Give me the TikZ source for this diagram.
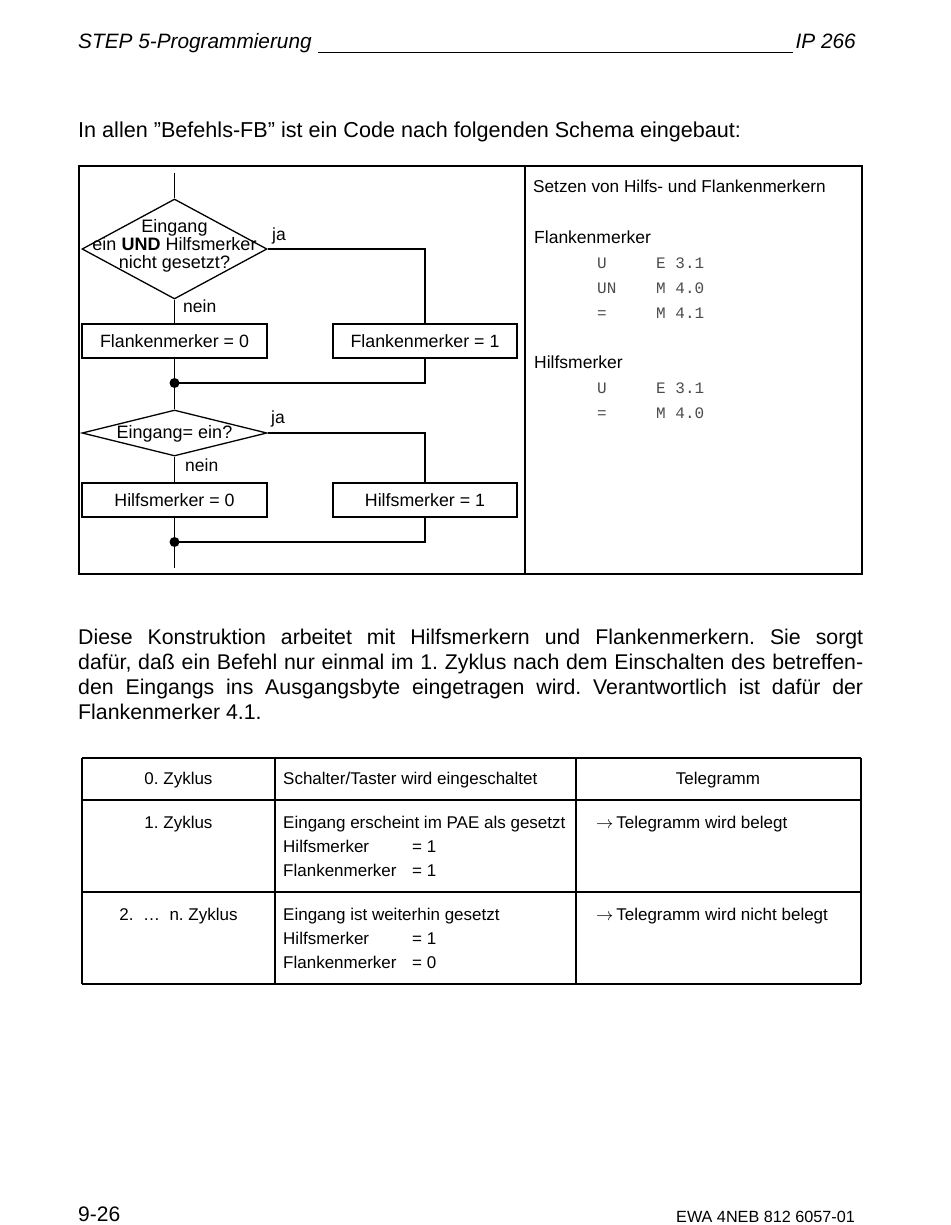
\documentclass[tikz,border=0pt]{standalone}
\usepackage{fontspec}
\setmainfont{Liberation Sans}
\setmonofont{Liberation Mono}
\usetikzlibrary{shapes.geometric}
\frenchspacing

\newcommand{\gr}[1]{\fontsize{#1}{#1}\selectfont}

\tikzset{
  linie/.style={line width=1.3pt},
  kasten/.style={draw, line width=1.3pt, minimum width=185pt, minimum height=34pt, inner sep=0pt, font=\gr{17.8}},
  raute/.style={draw, diamond, line width=1.3pt, minimum width=185pt, inner sep=0pt},
  punkt/.style={circle, fill, inner sep=0pt, minimum size=10pt},
  txt/.style={inner sep=0pt, anchor=base west, font=\gr{17.5}},
  kode/.style={inner sep=0pt, anchor=base west, font=\ttfamily\gr{16}, text=black!70},
  zelle/.style={inner sep=0pt, anchor=base west, font=\gr{17}},
  gross/.style={inner sep=0pt, anchor=base west, font=\gr{21.3}},
  tab/.style={line width=1.2pt},
}

\begin{document}
\begin{tikzpicture}[x=1pt,y=-1pt]
\useasboundingbox (0,0) rectangle (950,1225);

% Kopfzeile
\node[gross, font=\gr{20.8}] (titel) at (78,49) {\itshape STEP 5-Programmierung};
\node[gross, font=\gr{20.8}, anchor=base east] (ip) at (856,49) {\itshape IP 266};
\draw[line width=0.9pt] (318,52) -- (793,52);

\node[gross, font=\gr{21.6}] (intro) at (78,138) {In allen ”Befehls-FB” ist ein Code nach folgenden Schema eingebaut:};

% Rahmen
\draw[linie] (79,166) rectangle (862,574);
\draw[linie] (525,166) -- (525,574);

% Ablaufplan
\coordinate (start) at (174.5,173);
\node[raute, minimum height=100pt] (d1) at (174.5,249) {};
\node[align=center, inner sep=0pt, font=\fontsize{18}{18}\selectfont] (d1t) at (174.5,246)
  {Eingang\\ein \textbf{UND} Hilfsmerker\\nicht gesetzt?};
\node[kasten] (f0) at (174.5,341) {Flankenmerker = 0};
\node[kasten, minimum width=184pt] (f1) at (425,341) {Flankenmerker = 1};
\node[punkt] (p1) at (174.5,383) {};
\node[raute, minimum height=46pt] (d2) at (174.5,433) {};
\node[font=\gr{18}, inner sep=0pt] (d2t) at (174.5,433.5) {Eingang= ein?};
\node[kasten] (h0) at (174.5,500) {Hilfsmerker = 0};
\node[kasten, minimum width=184pt] (h1) at (425,500) {Hilfsmerker = 1};
\node[punkt] (p2) at (174.5,542) {};
\coordinate (ende) at (174.5,568);

\node[txt] (ja1) at (272,240) {ja};
\node[txt] (nein1) at (183,312) {nein};
\node[txt] (ja2) at (271,423) {ja};
\node[txt] (nein2) at (185,471) {nein};

\draw[linie] (start) -- (d1.north);
\draw[linie] (d1.south) -- (f0.north);
\draw[linie] (d1.east) -| (f1.north);
\draw[linie] (f0.south) -- (p1.center) -- (d2.north);
\draw[linie] (f1.south) |- (p1.center);
\draw[linie] (d2.south) -- (h0.north);
\draw[linie] (d2.east) -| (h1.north);
\draw[linie] (h0.south) -- (p2.center) -- (ende);
\draw[linie] (h1.south) |- (p2.center);

% Programmcode
\node[txt, font=\gr{17.2}] (setzen) at (533,193) {Setzen von Hilfs- und Flankenmerkern};
\node[txt] (fm) at (534,243) {Flankenmerker};
\node[txt] (hm) at (534,368) {Hilfsmerker};
\foreach \op/\arg/\y [count=\i] in {U/E 3.1/268, UN/M 4.0/293, =/M 4.1/318, U/E 3.1/393, =/M 4.0/418}{
  \node[kode] (op\i) at (597,\y) {\op};
  \node[kode] (arg\i) at (656,\y) {\arg};
}

% Absatz
\node[gross] (z1) at (78,644) {\makebox[785pt][s]{Diese Konstruktion arbeitet mit Hilfsmerkern und Flankenmerkern. Sie sorgt}};
\node[gross] (z2) at (78,669) {\makebox[785pt][s]{dafür, daß ein Befehl nur einmal im 1. Zyklus nach dem Einschalten des betreffen-}};
\node[gross] (z3) at (78,694) {\makebox[785pt][s]{den Eingangs ins Ausgangsbyte eingetragen wird. Verantwortlich ist dafür der}};
\node[gross] (z4) at (78,719) {Flankenmerker 4.1.};

% Tabelle
\draw[tab] (82,758) -- (861,758);
\draw[tab, line width=1.7pt] (82,800) -- (861,800);
\draw[tab, line width=1.7pt] (82,892) -- (861,892);
\draw[tab, line width=1.7pt] (82,984) -- (861,984);
\foreach \x in {82,275,576,861}
  \draw[tab] (\x,758) -- (\x,984);

\node[zelle, anchor=base] (k1) at (178.5,784) {0. Zyklus};
\node[zelle] (k2) at (283,784) {Schalter/Taster wird eingeschaltet};
\node[zelle, anchor=base] (k3) at (718,784) {Telegramm};

\node[zelle, anchor=base] (r1) at (178.5,828) {1. Zyklus};
\node[zelle] (r1a) at (283,828) {Eingang erscheint im PAE als gesetzt};
\node[zelle] (r1b) at (283,852) {Hilfsmerker};
\node[zelle] (r1bw) at (412,852) {= 1};
\node[zelle] (r1c) at (283,876) {Flankenmerker};
\node[zelle] (r1cw) at (412,876) {= 1};
\node[zelle] (r1t) at (596,828) {$\rightarrow$\,Telegramm wird belegt};

\node[zelle, anchor=base] (r2) at (178.5,920) {2.~ …~ n. Zyklus};
\node[zelle] (r2a) at (283,920) {Eingang ist weiterhin gesetzt};
\node[zelle] (r2b) at (283,944) {Hilfsmerker};
\node[zelle] (r2bw) at (412,944) {= 1};
\node[zelle] (r2c) at (283,968) {Flankenmerker};
\node[zelle] (r2cw) at (412,968) {= 0};
\node[zelle] (r2t) at (596,920) {$\rightarrow$\,Telegramm wird nicht belegt};

% Fusszeile
\node[gross, font=\gr{21}] (seite) at (78,1221) {9-26};
\node[inner sep=0pt, anchor=base east, font=\gr{16.2}] (nr) at (855,1222) {EWA 4NEB 812 6057-01};
\end{tikzpicture}
\end{document}
